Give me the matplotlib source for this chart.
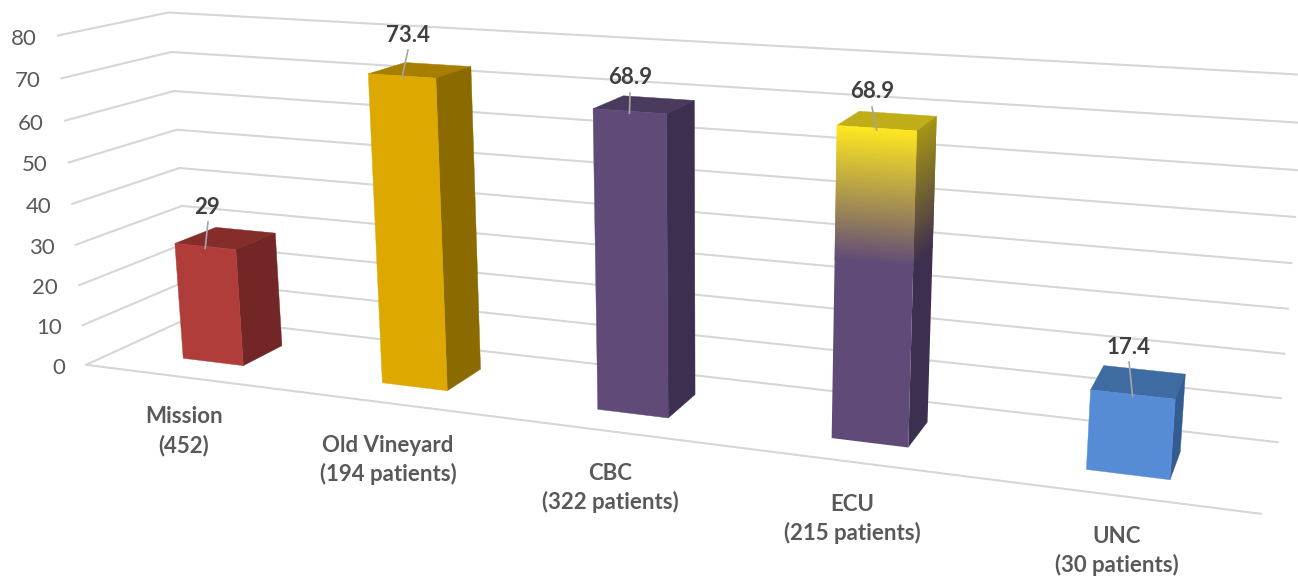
import numpy as np
import matplotlib
matplotlib.use("Agg")
import matplotlib.pyplot as plt
from matplotlib.colors import to_rgb

plt.rcParams['font.family'] = ['Lato', 'DejaVu Sans']

# data
categories = ["Mission\n(452)", "Old Vineyard\n(194 patients)", "CBC\n(322 patients)",
              "ECU\n(215 patients)", "UNC\n(30 patients)"]
values = [29, 73.4, 68.9, 68.9, 17.4]
value_labels = ["29", "73.4", "68.9", "68.9", "17.4"]
ticks = [0, 10, 20, 30, 40, 50, 60, 70, 80]

# look of the bars: front, top, side
front_cols = ["#B13D3A", "#DDA800", "#5F4A78", "#5F4A78", "#568CD6"]
top_cols = ["#852D2B", "#A67E00", "#4A3A5E", "#BFAE18", "#3F6BA3"]
side_cols = ["#722625", "#8B6A00", "#3D2F4F", "#3D2F4F", "#345C92"]

# box corners (u along categories, d depth, v value) -> pixels, used to fit the camera
box = [(0, 0, 0), (0, 0, 80), (1, 0, 0), (0, 1, 0), (1, 1, 0), (0, 1, 80), (1, 1, 80),
       (0, 0, 40), (0, 1, 40), (1, 1, 40)]
pix = [(86, 364), (58, 36), (1261, 514), (190, 318), (1277, 442), (168, 12), (1306, 75),
       (72, 204), (180, 168), (1292, 263)]


def fit_camera(box, pix):
    rows = []
    for (u, d, v), (x, y) in zip(box, pix):
        p = [u, d, v / 80, 1]
        rows.append(p + [0, 0, 0, 0] + [-x * c for c in p])
        rows.append([0, 0, 0, 0] + p + [-y * c for c in p])
    return np.linalg.svd(np.array(rows, float))[2][-1].reshape(3, 4)


cam = fit_camera(box, pix)


def proj(u, d, v):
    q = cam @ np.array([u, d, v / 80, 1.0])
    return q[0] / q[2], q[1] / q[2]


fig = plt.figure(figsize=(12.98, 5.77), dpi=100)
ax = fig.add_axes([0, 0, 1, 1])
ax.set_xlim(0, 1298)
ax.set_ylim(577, 0)
ax.axis("off")

# gridlines on the two walls
grid = "#D6D6D6"
for t in ticks:
    pts = [proj(0, 0, t), proj(0, 1, t), proj(1, 1, t)]
    ax.plot(*zip(*pts), color=grid, lw=1.5, solid_joinstyle="miter", zorder=1)
    x, y = proj(0, 0, t)
    ax.text(x - 21, y + 3, str(t), ha="right", va="center", fontsize=16, color="#595959")
ax.plot(*zip(proj(0, 0, 0), proj(1, 0, 0)), color=grid, lw=1.5, zorder=1)

# bars
bar_w = 0.031
d0, d1 = 0.29, 0.69
centers = [0.1, 0.3, 0.5, 0.7, 0.9]


def face(a, b, c, e):
    return list(zip(*[a, b, c, e]))


for i, val in enumerate(values):
    cu = centers[i]
    u0, u1 = cu - bar_w, cu + bar_w
    top = face(proj(u0, d0, val), proj(u1, d0, val), proj(u1, d1, val), proj(u0, d1, val))
    ax.fill(*top, color=top_cols[i], lw=0.3, zorder=3 + i)
    if i != 3:
        fr = face(proj(u0, d0, 0), proj(u1, d0, 0), proj(u1, d0, val), proj(u0, d0, val))
        sd = face(proj(u1, d0, 0), proj(u1, d1, 0), proj(u1, d1, val), proj(u1, d0, val))
        ax.fill(*sd, color=side_cols[i], lw=0.3, zorder=3 + i)
        ax.fill(*fr, color=front_cols[i], lw=0.3, zorder=3 + i)
    else:
        # ECU fades from yellow at the top to the purple lower down
        stop = 0.58 * val
        n = 90
        step = (val - stop) / n
        ax.fill(*face(proj(u1, d0, 0), proj(u1, d1, 0), proj(u1, d1, stop + step), proj(u1, d0, stop + step)),
                color=side_cols[i], lw=0, snap=False, zorder=3 + i)
        ax.fill(*face(proj(u0, d0, 0), proj(u1, d0, 0), proj(u1, d0, stop + step), proj(u0, d0, stop + step)),
                color=front_cols[i], lw=0, snap=False, zorder=3 + i)
        # slices overlap the next one by a step, so no seams show and the edges stay even
        for k in range(n):
            a = stop + step * k
            b = min(a + 2 * step, val)
            f = (k + 0.5) / n
            c1 = np.array(to_rgb(front_cols[i])) * (1 - f) + np.array(to_rgb("#FFE81F")) * f
            c2 = np.array(to_rgb(side_cols[i])) * (1 - f) + np.array(to_rgb("#A69615")) * f
            ax.fill(*face(proj(u1, d0, a), proj(u1, d1, a), proj(u1, d1, b), proj(u1, d0, b)),
                    color=c2, lw=0, snap=False, zorder=3 + i)
            ax.fill(*face(proj(u0, d0, a), proj(u1, d0, a), proj(u1, d0, b), proj(u0, d0, b)),
                    color=c1, lw=0, snap=False, zorder=3 + i)

# value labels with their little leader lines
label_xy = [(207, 208), (408, 35), (630, 78), (872, 92), (1129, 348)]
leader_start = [(208, 222), (408, 50), (630, 93), (872, 107), (1129, 362)]
for i, val in enumerate(values):
    cu = centers[i]
    x2, y2 = proj(cu, d0, val)
    ax.plot([leader_start[i][0], x2], [leader_start[i][1], y2 + 2], color="#A6A6A6", lw=1.2, zorder=12)
    ax.text(label_xy[i][0], label_xy[i][1], value_labels[i], ha="center", va="center",
            fontsize=16, fontweight="bold", color="#404040", zorder=13)

# category labels
cat_xy = [(184, 431), (388, 460), (610, 488), (852, 519), (1117, 551)]
for (x, y), lab in zip(cat_xy, categories):
    ax.text(x, y, lab, ha="center", va="center", fontsize=16, fontweight="bold",
            color="#595959", linespacing=1.4)

fig.savefig("out.png", dpi=100)
